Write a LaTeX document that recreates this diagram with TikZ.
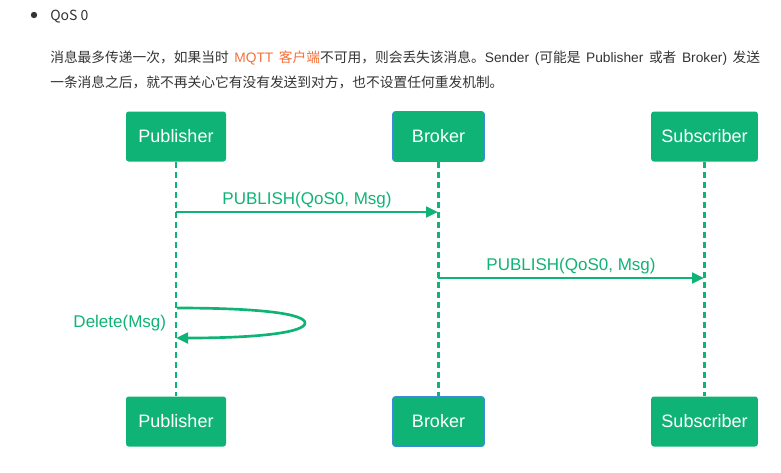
\documentclass[tikz,border=0pt]{standalone}
\usepackage{fontspec}
\setmainfont{Liberation Sans}
\newfontfamily\cjk{Noto Sans CJK SC}
\usetikzlibrary{arrows.meta}
\usetikzlibrary{positioning}
\definecolor{mqgreen}{RGB}{16,179,118}
\definecolor{mqtext}{RGB}{51,51,51}
\definecolor{mqorange}{RGB}{245,112,58}
\definecolor{mqblue}{RGB}{60,140,220}
\newcommand{\lat}[1]{{\rmfamily #1}}
\newcommand{\wsp}{\hspace{4.2pt}}
\tikzset{
  actor/.style={rectangle, rounded corners=2pt, fill=mqgreen, text=white,
    minimum height=37.5pt, inner sep=0pt, font=\fontsize{13.5}{15}\selectfont},
  life/.style={draw=mqgreen, line width=2pt, dash pattern=on 4.5pt off 3pt},
  msg/.style={draw=mqgreen, line width=2pt, -{Triangle[length=9pt,width=8pt]}},
  msglabel/.style={text=mqgreen, font=\fontsize{12.75}{14}\selectfont, inner sep=2pt},
  para/.style={anchor=base west, text=mqtext, inner sep=0pt,
    font=\cjk\fontsize{10.3}{12}\selectfont}
}
\begin{document}
\begin{tikzpicture}[x=0.75pt, y=-0.75pt]
      \useasboundingbox (0,0) rectangle (781,472);

      % heading and text
      \fill[mqtext] (34,15) circle (2.4pt);
      \node[para, font=\cjk\fontsize{10.5}{12}\selectfont] (qos) at (50,20) {QoS 0};
      \node[para] (line1) at (50,62) {消息最多传递一次，如果当时\wsp{}\textcolor{mqorange}{\lat{MQTT}\wsp{}客户端}不可用，则会丢失该消息。\lat{Sender\wsp{}(}可能是\wsp{}\lat{Publisher}\wsp{}或者\wsp{}\lat{Broker)}\wsp{}发送};
      \node[para] (line2) at (50,87) {一条消息之后，就不再关心它有没有发送到对方，也不设置任何重发机制。};

      % actors
      \node[actor, minimum width=75pt]                  (pubT) at (176,136.5) {Publisher};
      \node[actor, minimum width=69pt, draw=mqblue, line width=0.4pt] (brkT) at (438.5,136.5) {Broker};
      \node[actor, minimum width=80pt]                  (subT) at (704.5,136.5) {Subscriber};
      \node[actor, minimum width=75pt]                  (pubB) at (176,421.5) {Publisher};
      \node[actor, minimum width=69pt, draw=mqblue, line width=0.4pt] (brkB) at (438.5,421.5) {Broker};
      \node[actor, minimum width=80pt]                  (subB) at (704.5,421.5) {Subscriber};

      \draw[life] (pubT) -- (pubB);
      \draw[life] (brkT) -- (brkB);
      \draw[life] (subT) -- (subB);

      % messages
      \coordinate (m1a) at (176,212);
      \coordinate (m1b) at (438,212);
      \coordinate (m2a) at (438,278);
      \coordinate (m2b) at (704,278);
      \coordinate (dla) at (177,308);
      \coordinate (dlb) at (176,338);

      \draw[msg] (m1a) -- node[msglabel, above] (m1l) {PUBLISH(QoS0, Msg)} (m1b);
      \draw[msg] (m2a) -- node[msglabel, above] (m2l) {PUBLISH(QoS0, Msg)} (m2b);
      \draw[msg] (dla) .. controls (262,308) and (305,314) .. (305,323)
                       .. controls (305,332) and (262,338) .. (dlb);
      \node[msglabel, anchor=east] (dl) at (169,323) {Delete(Msg)};
    \end{tikzpicture}
\end{document}
